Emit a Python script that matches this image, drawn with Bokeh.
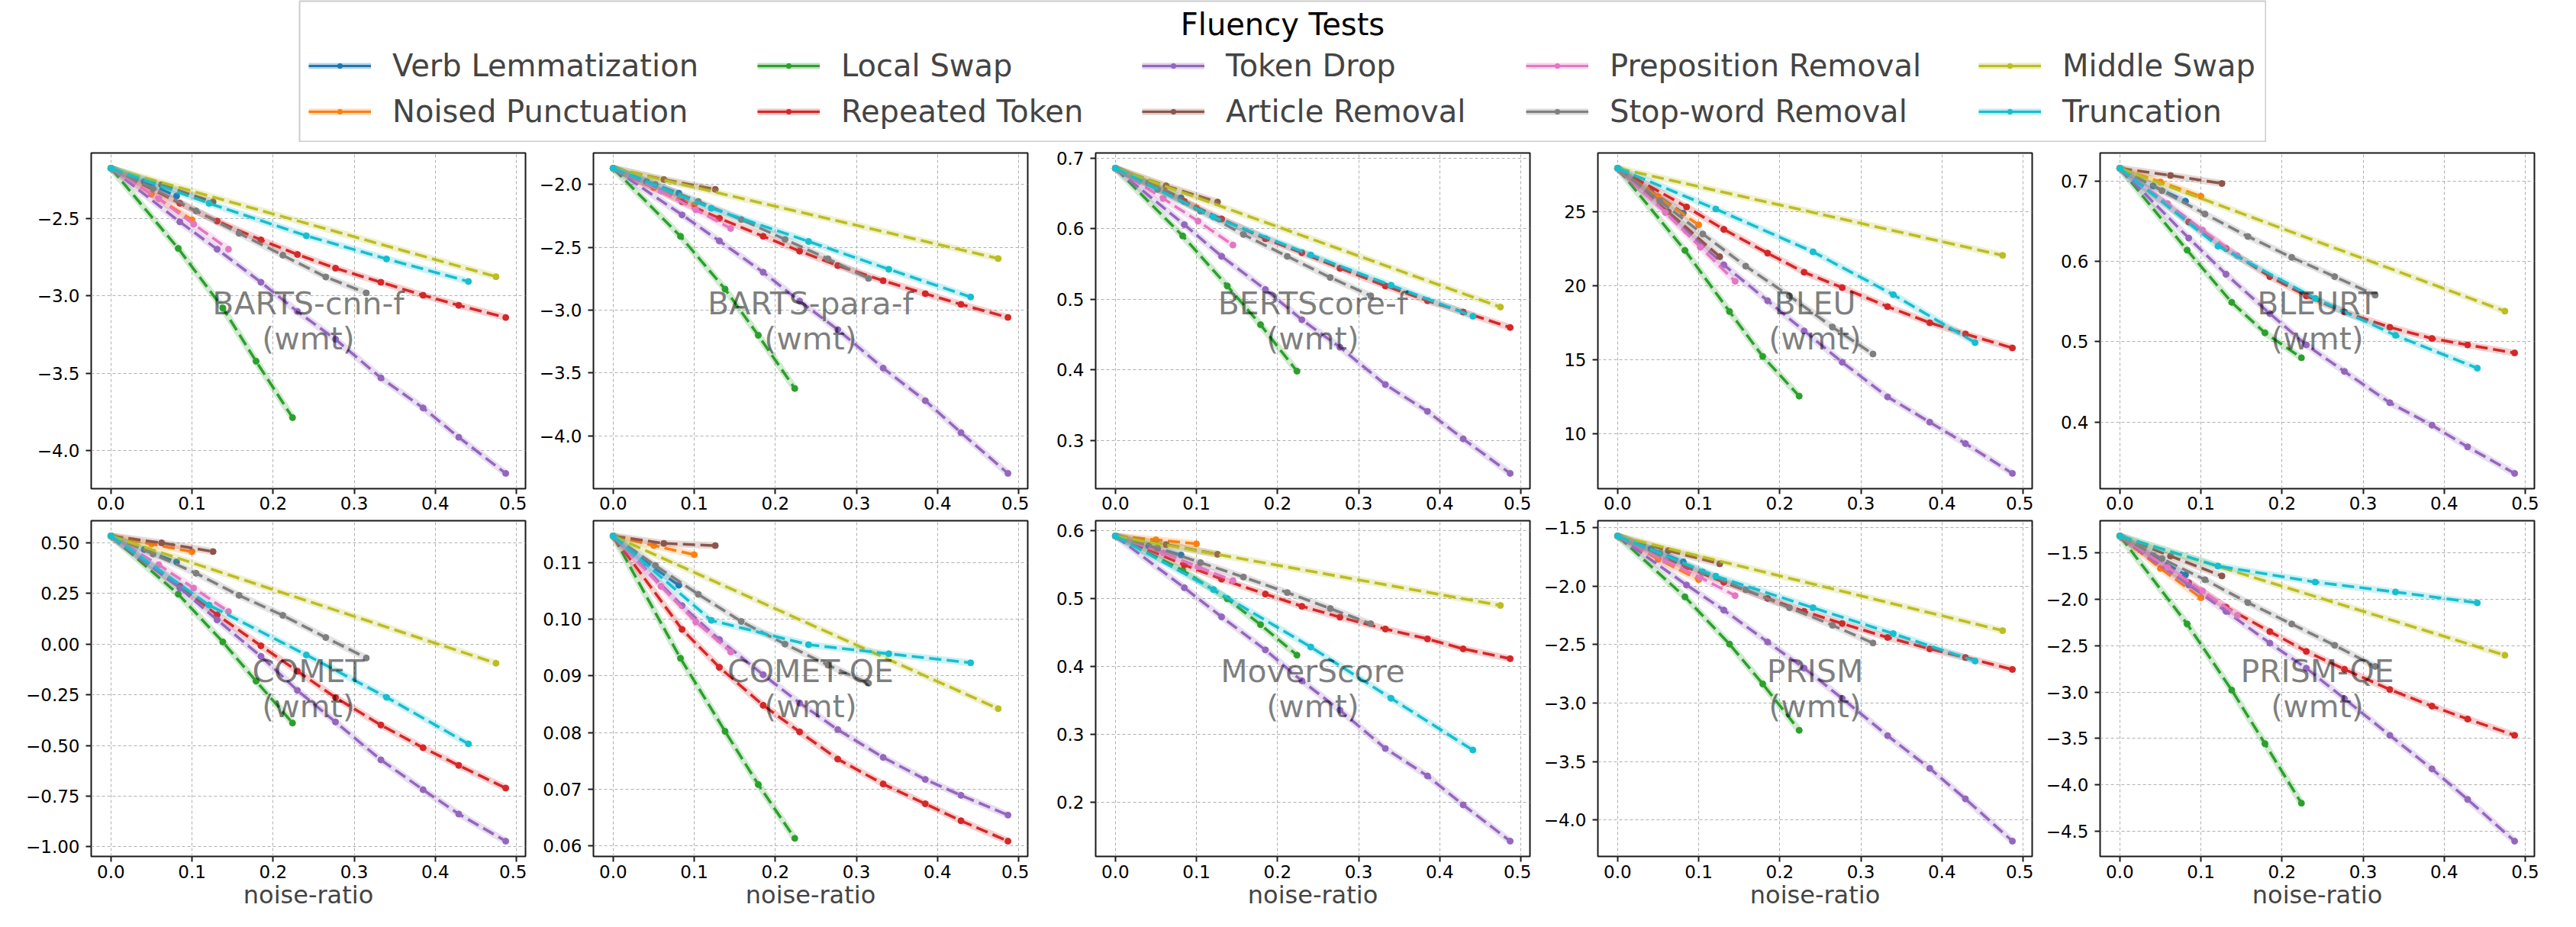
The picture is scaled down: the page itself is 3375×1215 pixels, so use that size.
from bokeh.plotting import figure
from bokeh.models import (Range1d, FixedTicker, Label, Legend, LegendItem, ColumnDataSource,
                          CustomJSTickFormatter, Spacer)
from bokeh.layouts import column, row
from bokeh.embed import file_html
from bokeh.resources import INLINE

# ---------------- data ----------------
series = ["Verb Lemmatization", "Noised Punctuation", "Local Swap", "Repeated Token", "Token Drop",
          "Article Removal", "Preposition Removal", "Stop-word Removal", "Middle Swap", "Truncation"]
colors = ["#1f77b4", "#ff7f0e", "#2ca02c", "#d62728", "#9467bd",
          "#8c564b", "#e377c2", "#7f7f7f", "#bcbd22", "#17becf"]

x_verb = [0, 0.041, 0.081]
x_punct = [0, 0.05, 0.1]
x_local = [0, 0.083, 0.138, 0.179, 0.224]
x_repeat = [0, 0.085, 0.131, 0.185, 0.23, 0.277, 0.333, 0.385, 0.429, 0.487]
x_drop = [0, 0.085, 0.131, 0.185, 0.23, 0.277, 0.333, 0.385, 0.429, 0.487]
x_article = [0, 0.0625, 0.126]
x_prep = [0, 0.059, 0.102, 0.145]
x_stop = [0, 0.052, 0.105, 0.158, 0.212, 0.265, 0.315]
x_middle = [0, 0.475]
x_trunc = [0, 0.121, 0.241, 0.34, 0.441]
x_values = [x_verb, x_punct, x_local, x_repeat, x_drop, x_article, x_prep, x_stop, x_middle, x_trunc]

x_ticks = [0.0, 0.1, 0.2, 0.3, 0.4, 0.5]

bart_cnn = [
    [-2.173, -2.26, -2.353],
    [-2.173, -2.341, -2.507],
    [-2.173, -2.692, -3.078, -3.422, -3.787],
    [-2.173, -2.40, -2.515, -2.637, -2.731, -2.82, -2.911, -2.995, -3.06, -3.139],
    [-2.173, -2.52, -2.697, -2.911, -3.10, -3.28, -3.53, -3.724, -3.914, -4.148],
    [-2.173, -2.28, -2.391],
    [-2.173, -2.37, -2.535, -2.697],
    [-2.173, -2.305, -2.449, -2.594, -2.736, -2.877, -2.98],
    [-2.173, -2.875],
    [-2.173, -2.40, -2.61, -2.76, -2.906],
]
bart_para = [
    [-1.872, -1.978, -2.071],
    [-1.872, -2.026, -2.164],
    [-1.872, -2.413, -2.833, -3.20, -3.623],
    [-1.872, -2.138, -2.27, -2.413, -2.531, -2.646, -2.766, -2.869, -2.954, -3.058],
    [-1.872, -2.243, -2.45, -2.699, -2.928, -3.155, -3.461, -3.72, -3.974, -4.298],
    [-1.872, -1.962, -2.04],
    [-1.872, -2.053, -2.203, -2.351],
    [-1.872, -2.0, -2.136, -2.28, -2.438, -2.592, -2.748],
    [-1.872, -2.59],
    [-1.872, -2.19, -2.454, -2.675, -2.896],
]
bertscore = [
    [0.686, 0.665, 0.644],
    [0.686, 0.660, 0.630],
    [0.686, 0.59, 0.519, 0.464, 0.398],
    [0.686, 0.639, 0.614, 0.586, 0.566, 0.544, 0.519, 0.498, 0.482, 0.46],
    [0.686, 0.606, 0.561, 0.514, 0.471, 0.432, 0.379, 0.341, 0.302, 0.253],
    [0.686, 0.661, 0.638],
    [0.686, 0.643, 0.611, 0.577],
    [0.686, 0.656, 0.625, 0.592, 0.561, 0.531, 0.505],
    [0.686, 0.489],
    [0.686, 0.617, 0.563, 0.52, 0.476],
]
bleu = [
    [27.95, 26.4, 24.91],
    [27.95, 26.02, 24.12],
    [27.95, 22.39, 18.25, 15.21, 12.52],
    [27.95, 25.33, 23.81, 22.2, 20.91, 19.87, 18.58, 17.49, 16.73, 15.78],
    [27.95, 23.7, 21.41, 18.98, 16.94, 14.82, 12.47, 10.76, 9.31, 7.29],
    [27.95, 25.0, 21.96],
    [27.95, 24.95, 22.6, 20.29],
    [27.95, 25.74, 23.5, 21.32, 19.3, 17.2, 15.37],
    [27.95, 22.05],
    [27.95, 25.19, 22.29, 19.39, 16.14],
]
bleurt = [
    [0.716, 0.694, 0.675],
    [0.716, 0.699, 0.681],
    [0.716, 0.614, 0.549, 0.511, 0.48],
    [0.716, 0.649, 0.616, 0.581, 0.557, 0.537, 0.518, 0.504, 0.496, 0.486],
    [0.716, 0.629, 0.584, 0.535, 0.496, 0.463, 0.424, 0.396, 0.369, 0.336],
    [0.716, 0.707, 0.697],
    [0.716, 0.672, 0.639, 0.607],
    [0.716, 0.688, 0.659, 0.631, 0.605, 0.581, 0.558],
    [0.716, 0.538],
    [0.716, 0.619, 0.554, 0.508, 0.467],
]
comet = [
    [0.534, 0.467, 0.406],
    [0.534, 0.494, 0.456],
    [0.534, 0.247, 0.011, -0.182, -0.389],
    [0.534, 0.286, 0.145, -0.008, -0.133, -0.263, -0.399, -0.511, -0.598, -0.71],
    [0.534, 0.277, 0.12, -0.06, -0.228, -0.384, -0.571, -0.718, -0.838, -0.972],
    [0.534, 0.50, 0.457],
    [0.534, 0.392, 0.277, 0.161],
    [0.534, 0.445, 0.35, 0.241, 0.142, 0.033, -0.068],
    [0.534, -0.094],
    [0.534, 0.193, -0.053, -0.262, -0.492],
]
comet_qe = [
    [0.1147, 0.1100, 0.1060],
    [0.1147, 0.1130, 0.1114],
    [0.1147, 0.0931, 0.0802, 0.0708, 0.0613],
    [0.1147, 0.0982, 0.0915, 0.0848, 0.0801, 0.0753, 0.0709, 0.0674, 0.0644, 0.0608],
    [0.1147, 0.1024, 0.0964, 0.0902, 0.0852, 0.0805, 0.0756, 0.0717, 0.0689, 0.0654],
    [0.1147, 0.1134, 0.1130],
    [0.1147, 0.1058, 0.0995, 0.0942],
    [0.1147, 0.1095, 0.1044, 0.0996, 0.0956, 0.0919, 0.0887],
    [0.1147, 0.0842],
    [0.1147, 0.0998, 0.0955, 0.0939, 0.0923],
]
moverscore = [
    [0.5925, 0.578, 0.5645],
    [0.5925, 0.587, 0.581],
    [0.5925, 0.542, 0.50, 0.462, 0.417],
    [0.5925, 0.550, 0.529, 0.507, 0.489, 0.473, 0.4555, 0.441, 0.4263, 0.4118],
    [0.5925, 0.5163, 0.4734, 0.4248, 0.3793, 0.336, 0.2796, 0.2392, 0.1966, 0.1432],
    [0.5925, 0.5798, 0.5656],
    [0.5925, 0.5675, 0.5473, 0.5268],
    [0.5925, 0.5746, 0.5533, 0.532, 0.5092, 0.4857, 0.4633],
    [0.5925, 0.4902],
    [0.5925, 0.5137, 0.429, 0.3535, 0.2773],
]
prism = [
    [-1.5695, -1.680, -1.791],
    [-1.5695, -1.769, -1.943],
    [-1.5695, -2.091, -2.495, -2.836, -3.233],
    [-1.5695, -1.837, -1.965, -2.104, -2.215, -2.319, -2.438, -2.536, -2.61, -2.712],
    [-1.5695, -1.989, -2.204, -2.477, -2.701, -2.96, -3.279, -3.559, -3.82, -4.182],
    [-1.5695, -1.695, -1.808],
    [-1.5695, -1.782, -1.924, -2.08],
    [-1.5695, -1.717, -1.878, -2.03, -2.184, -2.334, -2.486],
    [-1.5695, -2.38],
    [-1.5695, -1.913, -2.184, -2.406, -2.64],
]
prism_qe = [
    [-1.316, -1.53, -1.736],
    [-1.316, -1.665, -1.983],
    [-1.316, -2.265, -2.978, -3.556, -4.198],
    [-1.316, -1.82, -2.084, -2.347, -2.561, -2.753, -2.972, -3.151, -3.29, -3.466],
    [-1.316, -1.845, -2.128, -2.471, -2.742, -3.07, -3.466, -3.828, -4.157, -4.607],
    [-1.316, -1.533, -1.747],
    [-1.316, -1.654, -1.909, -2.172],
    [-1.316, -1.56, -1.788, -2.035, -2.265, -2.495, -2.723],
    [-1.316, -2.602],
    [-1.316, -1.64, -1.813, -1.92, -2.037],
]

metric_names = ["BARTS-cnn-f", "BARTS-para-f", "BERTScore-f", "BLEU", "BLEURT",
                "COMET", "COMET-QE", "MoverScore", "PRISM", "PRISM-QE"]
metric_data = [bart_cnn, bart_para, bertscore, bleu, bleurt, comet, comet_qe, moverscore, prism, prism_qe]

yticks_bart_cnn = [-4.0, -3.5, -3.0, -2.5]
yticks_bart_para = [-4.0, -3.5, -3.0, -2.5, -2.0]
yticks_bertscore = [0.3, 0.4, 0.5, 0.6, 0.7]
yticks_bleu = [10, 15, 20, 25]
yticks_bleurt = [0.4, 0.5, 0.6, 0.7]
yticks_comet = [-1.0, -0.75, -0.5, -0.25, 0.0, 0.25, 0.5]
yticks_comet_qe = [0.06, 0.07, 0.08, 0.09, 0.10, 0.11]
yticks_moverscore = [0.2, 0.3, 0.4, 0.5, 0.6]
yticks_prism = [-4.0, -3.5, -3.0, -2.5, -2.0, -1.5]
yticks_prism_qe = [-4.5, -4.0, -3.5, -3.0, -2.5, -2.0, -1.5]
metric_yticks = [yticks_bart_cnn, yticks_bart_para, yticks_bertscore, yticks_bleu, yticks_bleurt,
                 yticks_comet, yticks_comet_qe, yticks_moverscore, yticks_prism, yticks_prism_qe]
metric_decimals = [1, 1, 1, 0, 1, 2, 2, 1, 1, 1]
subtitle = "(wmt)"
x_label = "noise-ratio"
legend_title = "Fluency Tests"

# ---------------- layout ----------------
FONT = "DejaVu Sans"
FW, FH = 569, 440

def make_formatter(nd):
    return CustomJSTickFormatter(args=dict(nd=nd),
                                 code="return tick.toFixed(nd).replace('-', '\u2212');")

all_x = [v for xs in x_values for v in xs]
xlo, xhi = min(all_x), max(all_x)
xpad = 0.05 * (xhi - xlo)

def make_panel(idx):
    colidx = idx % 5
    bottom = idx >= 5
    L = 119 if colidx == 0 else 87
    R = 2 if colidx < 4 else 39
    T = 5 if bottom else 14
    B = 77 if bottom else 37
    data = metric_data[idx]
    all_y = [v for ys in data for v in ys]
    lo, hi = min(all_y), max(all_y)
    pad = 0.05 * (hi - lo)
    p = figure(width=L + FW + R, height=T + FH + B,
               x_range=Range1d(xlo - xpad, xhi + xpad), y_range=Range1d(lo - pad, hi + pad),
               output_backend="svg", toolbar_location=None)
    p.min_border = 0
    p.min_border_left = L
    p.min_border_right = R
    p.min_border_top = T
    p.min_border_bottom = B
    p.outline_line_color = "#1a1a1a"
    p.outline_line_width = 2
    p.background_fill_color = "white"
    p.border_fill_color = "white"

    p.xaxis.ticker = FixedTicker(ticks=x_ticks)
    p.xaxis.formatter = make_formatter(1)
    p.yaxis.ticker = FixedTicker(ticks=metric_yticks[idx])
    p.yaxis.formatter = make_formatter(metric_decimals[idx])
    for ax in p.axis:
        ax.axis_line_color = None
        ax.major_tick_out = 7
        ax.major_tick_in = 0
        ax.major_tick_line_width = 2
        ax.major_tick_line_color = "#1a1a1a"
        ax.minor_tick_line_color = None
        ax.major_label_text_font = FONT
        ax.major_label_text_font_size = "23px"
        ax.major_label_text_color = "black"
    p.xaxis.major_label_standoff = 4 if bottom else 3
    p.yaxis.major_label_standoff = 8
    if bottom:
        p.xaxis.axis_label = x_label
        p.xaxis.axis_label_text_font = FONT
        p.xaxis.axis_label_text_font_size = "32px"
        p.xaxis.axis_label_text_font_style = "normal"
        p.xaxis.axis_label_standoff = 0
    p.grid.grid_line_color = "#b0b0b0"
    p.grid.grid_line_dash = "4 3"
    p.grid.grid_line_width = 1

    for name, color, xs, ys in zip(series, colors, x_values, data):
        src = ColumnDataSource(dict(x=xs, y=ys))
        p.line("x", "y", source=src, line_color=color, line_width=9, line_alpha=0.22)
        p.line("x", "y", source=src, line_color=color, line_width=3.6, line_dash="16 7")
        p.scatter("x", "y", source=src, size=8, fill_color=color, line_color=color)

    p.add_layout(Label(x=FW / 2, y=FH / 2 + 23, x_units="screen", y_units="screen",
                       text=metric_names[idx], text_align="center", text_baseline="middle",
                       text_font=FONT, text_font_size="41px", text_color="black", text_alpha=0.5))
    p.add_layout(Label(x=FW / 2, y=FH / 2 - 23, x_units="screen", y_units="screen",
                       text=subtitle, text_align="center", text_baseline="middle",
                       text_font=FONT, text_font_size="41px", text_color="black", text_alpha=0.5))
    return p

panels = [make_panel(i) for i in range(10)]

# ---------------- legend box ----------------
LW, LH = 2578, 186
legend_col_x = [12, 600, 1104, 1607, 2200]
lf = figure(width=LW, height=LH, x_range=Range1d(0, 1), y_range=Range1d(0, 1),
            x_axis_type=None, y_axis_type=None, output_backend="svg", toolbar_location=None)
lf.min_border = 1
lf.outline_line_color = "#cccccc"
lf.outline_line_width = 2
lf.background_fill_color = "white"

proxies = []
for k, (name, color) in enumerate(zip(series, colors)):
    # legend proxies: real data (all negative) that falls outside this box's 0..1 range
    src = ColumnDataSource(dict(x=x_values[k], y=bart_cnn[k]))
    r1 = lf.line("x", "y", source=src, line_color=color, line_width=8, line_alpha=0.3)
    r2 = lf.line("x", "y", source=src, line_color=color, line_width=3)
    r3 = lf.scatter("x", "y", source=src, size=6, fill_color=color, line_color=color)
    proxies.append(LegendItem(label=name, renderers=[r1, r2, r3]))

frame_h = LH - 2
for c in range(5):
    leg = Legend(items=proxies[2 * c:2 * c + 2], orientation="vertical",
                 location=(legend_col_x[c], 16))
    leg.margin = 0
    leg.padding = 0
    leg.spacing = 13
    leg.label_text_font = FONT
    leg.label_text_font_size = "40px"
    leg.glyph_width = 82
    leg.glyph_height = 16
    leg.label_height = 47
    leg.label_standoff = 28
    leg.border_line_color = None
    leg.background_fill_alpha = 0
    lf.add_layout(leg, "center")

lf.add_layout(Label(x=(LW - 2) / 2, y=frame_h - 30, x_units="screen", y_units="screen",
                    text=legend_title, text_align="center", text_baseline="middle",
                    text_font=FONT, text_font_size="40px", text_color="black"))

top_band = row(Spacer(width=391, height=LH), lf)
layout = column(top_band, row(*panels[:5]), row(*panels[5:]))
open("out.html", "w").write(file_html(layout, INLINE))
